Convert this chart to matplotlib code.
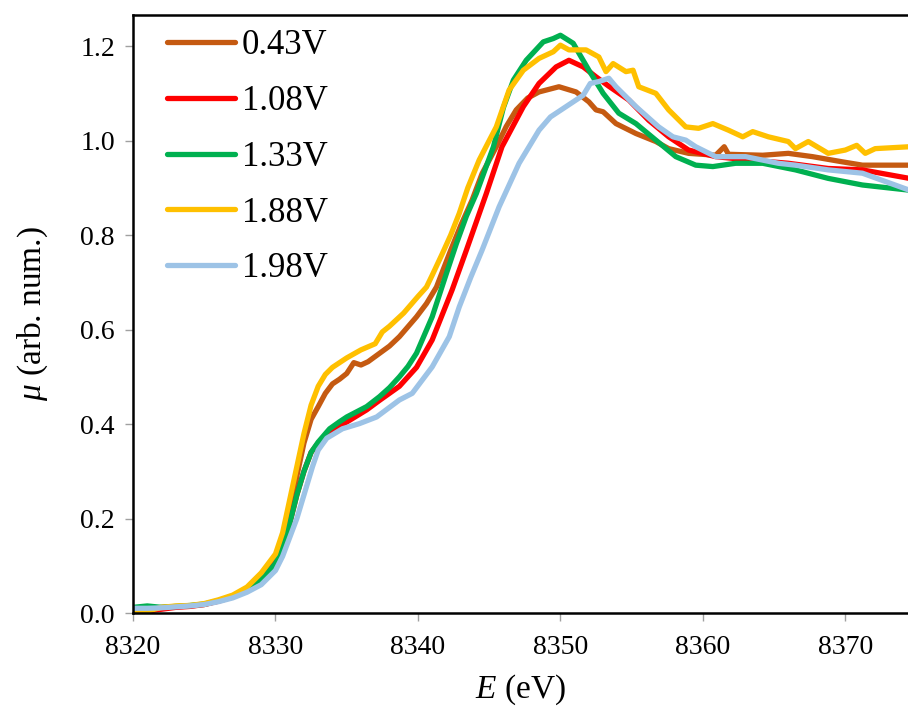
import matplotlib
matplotlib.use("Agg")
import matplotlib.pyplot as plt
import numpy as np

plt.rcParams["font.family"] = ["Liberation Serif", "DejaVu Serif"]
plt.rcParams["mathtext.fontset"] = "custom"
plt.rcParams["mathtext.it"] = "Liberation Serif:italic"
plt.rcParams["mathtext.rm"] = "Liberation Serif"

# Fe K-edge XANES spectra at different potentials
labels = ["0.43V", "1.08V", "1.33V", "1.88V", "1.98V"]
colors = ["#C55A11", "#FF0000", "#00B050", "#FFC000", "#9DC3E6"]

e_043 = [8320, 8321, 8322, 8323, 8324, 8325, 8326, 8327, 8328, 8329, 8330, 8330.5, 8331, 8331.5,
         8332, 8332.5, 8333, 8333.5, 8334, 8334.5, 8335, 8335.5, 8336, 8336.5, 8337, 8338,
         8338.7, 8339.9, 8340.6, 8341.3, 8342.3, 8343.0, 8343.8, 8344.5, 8345.5, 8346.2,
         8346.9, 8347.7, 8348.5, 8349.9, 8351.1, 8352.0, 8352.5, 8353.0, 8353.9, 8355.3,
         8356.7, 8357.6, 8359.0, 8360.9, 8361.5, 8361.8, 8364.2, 8366.0, 8367.7, 8369.8,
         8371.2, 8374.5]
mu_043 = [0.005, 0.008, 0.012, 0.013, 0.015, 0.018, 0.026, 0.036, 0.05, 0.075, 0.11, 0.15, 0.215, 0.29,
          0.36, 0.41, 0.437, 0.465, 0.485, 0.495, 0.507, 0.53, 0.525, 0.532, 0.543, 0.565,
          0.585, 0.627, 0.655, 0.69, 0.768, 0.82, 0.874, 0.93, 0.987, 1.03,
          1.065, 1.09, 1.103, 1.114, 1.103, 1.082, 1.065, 1.061, 1.036, 1.015,
          0.998, 0.983, 0.973, 0.969, 0.987, 0.971, 0.969, 0.973, 0.966, 0.955,
          0.948, 0.948]

e_108 = [8320, 8321, 8322, 8323, 8324, 8325, 8326, 8327, 8328, 8329, 8330, 8330.5, 8331, 8331.5,
         8332, 8332.5, 8333, 8334.5, 8336.4, 8337.3, 8338.7, 8339.9, 8341.0, 8342.4, 8342.9,
         8343.4, 8344.8, 8345.9, 8347.4, 8348.5, 8349.7, 8350.6, 8351.6, 8352.5, 8353.4,
         8354.8, 8356.2, 8357.6, 8359.0, 8360.9, 8363.2, 8366.0, 8368.8, 8371.2, 8374.5]
mu_108 = [0.0, 0.004, 0.008, 0.012, 0.014, 0.018, 0.025, 0.034, 0.048, 0.07, 0.105, 0.14, 0.19, 0.25,
          0.30, 0.34, 0.36, 0.395, 0.43, 0.45, 0.48, 0.52, 0.578, 0.684, 0.726,
          0.768, 0.888, 0.987, 1.072, 1.121, 1.156, 1.17, 1.156, 1.135, 1.115,
          1.086, 1.043, 1.008, 0.98, 0.966, 0.959, 0.952, 0.941, 0.938, 0.92]

e_133 = [8320, 8321, 8322, 8323, 8324, 8325, 8326, 8327, 8328, 8329, 8330, 8330.5, 8331, 8331.5,
         8332, 8332.5, 8333, 8333.8, 8334.5, 8335, 8336.4, 8337.3, 8338, 8338.7, 8339.3,
         8339.9, 8341.0, 8342.0, 8342.7, 8343.4, 8344.1, 8345.3, 8346.0, 8346.7, 8347.6,
         8348.8, 8349.5, 8350.0, 8350.9, 8351.4, 8352.0, 8353.0, 8354.1, 8355.3, 8356.7,
         8358.1, 8359.5, 8360.7, 8362.3, 8364.2, 8366.5, 8368.8, 8371.2, 8374.5]
mu_133 = [0.012, 0.015, 0.012, 0.014, 0.016, 0.019, 0.026, 0.035, 0.048, 0.07, 0.105, 0.14, 0.19, 0.25,
          0.30, 0.34, 0.362, 0.39, 0.405, 0.415, 0.437, 0.458, 0.477, 0.5, 0.522,
          0.55, 0.627, 0.719, 0.782, 0.84, 0.888, 0.987, 1.07, 1.128, 1.17,
          1.209, 1.216, 1.223, 1.206, 1.18, 1.149, 1.1, 1.058, 1.036, 1.001,
          0.966, 0.948, 0.945, 0.952, 0.952, 0.938, 0.92, 0.906, 0.895]

e_188 = [8320, 8321, 8322, 8323, 8324, 8325, 8326, 8327, 8328, 8329, 8330, 8330.5, 8331, 8331.5,
         8332, 8332.5, 8333, 8333.5, 8334, 8334.5, 8335, 8336, 8337, 8337.5, 8338, 8339,
         8340, 8340.6, 8341, 8341.7, 8342.3, 8342.9, 8343.5, 8344.3, 8345, 8345.5, 8346.4,
         8347.4, 8348.5, 8349.5, 8350, 8350.6, 8351.8, 8352.7, 8353.2, 8353.7, 8354.6,
         8355.1, 8355.5, 8356.7, 8357.6, 8358.8, 8359.7, 8360.7, 8361.8, 8362.8, 8363.5,
         8364.6, 8366.0, 8366.5, 8367.4, 8368.8, 8370.0, 8370.8, 8371.4, 8372.1, 8374.5]
mu_188 = [0.005, 0.004, 0.012, 0.015, 0.016, 0.02, 0.028, 0.038, 0.055, 0.085, 0.125, 0.17, 0.24, 0.31,
          0.38, 0.44, 0.48, 0.505, 0.52, 0.53, 0.54, 0.557, 0.57, 0.595, 0.607, 0.635,
          0.67, 0.69, 0.715, 0.76, 0.80, 0.846, 0.90, 0.959, 1.0, 1.029, 1.107,
          1.149, 1.174, 1.188, 1.202, 1.192, 1.192, 1.177, 1.146, 1.163, 1.146,
          1.149, 1.114, 1.1, 1.065, 1.029, 1.026, 1.036, 1.022, 1.008, 1.019,
          1.008, 0.998, 0.983, 0.998, 0.973, 0.98, 0.99, 0.973, 0.983, 0.987]

e_198 = [8320, 8321, 8322, 8323, 8324, 8325, 8326, 8327, 8328, 8329, 8330, 8330.5, 8331, 8331.5,
         8332, 8332.6, 8333, 8333.6, 8334.7, 8335.9, 8337.1, 8338.7, 8339.6, 8341.0, 8342.2,
         8342.9, 8343.7, 8344.5, 8345.7, 8347.1, 8348.5, 8349.3, 8350.2, 8351.6, 8352.1,
         8352.7, 8353.4, 8353.9, 8355.3, 8356.9, 8357.9, 8358.8, 8359.5, 8360.9, 8363.0,
         8365.3, 8366.5, 8368.8, 8371.2, 8374.5]
mu_198 = [0.01, 0.01, 0.011, 0.013, 0.015, 0.018, 0.024, 0.032, 0.044, 0.06, 0.09, 0.12, 0.16, 0.20,
          0.25, 0.31, 0.345, 0.37, 0.39, 0.401, 0.415, 0.451, 0.465, 0.521, 0.585,
          0.648, 0.71, 0.768, 0.86, 0.952, 1.022, 1.05, 1.068, 1.096, 1.121,
          1.125, 1.132, 1.114, 1.072, 1.029, 1.008, 1.001, 0.987, 0.966, 0.966,
          0.952, 0.948, 0.938, 0.931, 0.895]

energies = [e_043, e_108, e_133, e_188, e_198]
spectra = [mu_043, mu_108, mu_133, mu_188, mu_198]

xticks = [8320, 8330, 8340, 8350, 8360, 8370]
yticks = [0.0, 0.2, 0.4, 0.6, 0.8, 1.0, 1.2]

fig = plt.figure(figsize=(9.08, 7.11), dpi=100)
ax = fig.add_axes([0.1465, 0.1378, 0.8535, 0.8412])

for e, mu, c, lab in zip(energies, spectra, colors, labels):
    ax.plot(e, mu, color=c, lw=3.8, label=lab,
            solid_capstyle="round", solid_joinstyle="round")

ax.set_xlim(8320, 8374.4)
ax.set_ylim(0, 1.266)
ax.set_xticks(xticks)
ax.set_yticks(yticks)
ax.set_xticklabels([str(t) for t in xticks])
ax.set_yticklabels([f"{t:.1f}" for t in yticks])

for side in ("left", "bottom", "top"):
    ax.spines[side].set_linewidth(1.8)
    ax.spines[side].set_color("black")
ax.spines["right"].set_visible(False)

ax.tick_params(axis="both", direction="out", length=6, width=1.0,
               color="#A0A0A0", labelsize=20)
ax.tick_params(axis="x", pad=10)
ax.tick_params(axis="y", pad=7)

ax.set_xlabel(r"$\it{E}$ (eV)", fontsize=24, labelpad=9)
ax.set_ylabel(r"$\mu$ (arb. num.)", fontsize=24, labelpad=22)

leg = ax.legend(loc="upper left", frameon=False, fontsize=25,
                handlelength=1.95, handletextpad=0.2, labelspacing=0.66,
                borderaxespad=0.0, borderpad=0.4,
                bbox_to_anchor=(0.026, 1.0))

fig.savefig("out.png", dpi=100)
